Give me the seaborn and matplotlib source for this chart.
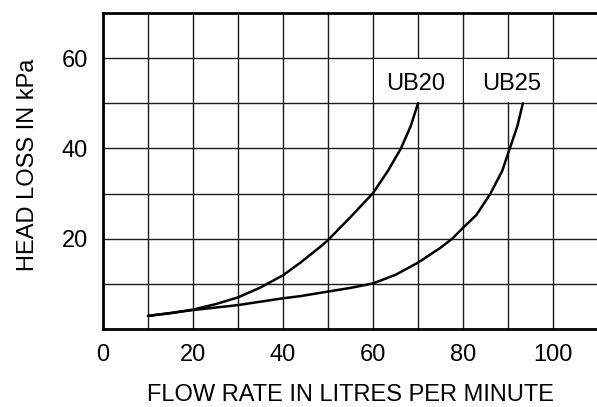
import matplotlib
matplotlib.use("Agg")
import matplotlib.pyplot as plt
import seaborn as sns
import pandas as pd
from matplotlib.patches import Rectangle

sns.set_theme(style="white")
plt.rcParams['font.family'] = ['Liberation Sans', 'DejaVu Sans']

# ---- data ----
ub20_flow = [10, 15, 20, 25, 30, 35, 40, 44, 48.4, 50, 55, 60, 63.3, 66.2, 68.4, 70]
ub20_loss = [2.9, 3.5, 4.3, 5.5, 7.0, 9.2, 11.9, 14.8, 18.3, 19.7, 24.8, 30.1, 35.0, 40.0, 45.0, 50.0]
ub25_flow = [10, 20, 30, 40, 44, 50, 55, 60, 65, 70, 75, 77.6, 80, 83, 86.1, 88.7, 90.4, 92.1, 93.3]
ub25_loss = [2.9, 4.2, 5.3, 6.8, 7.3, 8.3, 9.1, 10.1, 12.0, 14.7, 18.0, 20.0, 22.4, 25.3, 30.0, 35.0, 40.0, 45.0, 50.0]
series_names = ["UB20", "UB25"]
label_x = [69.4, 90.8]
label_y = [52.9, 52.9]
box_center = [70, 90]
x_ticks = [0, 20, 40, 60, 80, 100]
y_ticks = [20, 40, 60]
x_grid = [10, 20, 30, 40, 50, 60, 70, 80, 90, 100]
y_grid = [10, 20, 30, 40, 50, 60]

df = pd.concat([
    pd.DataFrame({"flow": ub20_flow, "loss": ub20_loss, "series": "UB20"}),
    pd.DataFrame({"flow": ub25_flow, "loss": ub25_loss, "series": "UB25"}),
], ignore_index=True)

fig = plt.figure(figsize=(5.97, 4.07), dpi=100)
ax = fig.add_axes([103/597, 78/407, 495/597, 316/407])

sns.lineplot(data=df, x="flow", y="loss", hue="series", palette=["black", "black"],
             sort=False, estimator=None, legend=False, linewidth=1.8, ax=ax, zorder=4)

ax.set_xlim(0, 110)
ax.set_ylim(0, 70)
ax.set_xticks(x_ticks)
ax.set_yticks(y_ticks)
ax.set_xticks(x_grid, minor=True)
ax.set_yticks(y_grid, minor=True)
ax.grid(True, which="both", color="#1a1a1a", linewidth=1.0)
ax.set_axisbelow(True)
ax.tick_params(axis="both", which="both", length=0, labelsize=17, colors="black")
ax.tick_params(axis="x", pad=11)
ax.tick_params(axis="y", pad=11)

for s in ["left", "bottom", "top"]:
    ax.spines[s].set_color("black")
    ax.spines[s].set_linewidth(2.0)
ax.spines["right"].set_visible(False)

for name, lx, ly, bc in zip(series_names, label_x, label_y, box_center):
    ax.add_patch(Rectangle((bc - 9.75, 50.25), 19.5, 9.5, facecolor="white",
                           edgecolor="none", zorder=3))
    ax.text(lx, ly, name, ha="center", va="baseline", fontsize=17, color="black", zorder=5)

ax.set_xlabel("FLOW RATE IN LITRES PER MINUTE", fontsize=17, color="black")
ax.xaxis.label.set_va("baseline")
ax.xaxis.set_label_coords(0.5, (6 - 78) / 316)
ax.set_ylabel("HEAD LOSS IN kPa", fontsize=17, color="black")
ax.yaxis.set_label_coords((39 - 103) / 495, 0.52)

fig.savefig("out.png", dpi=100)
